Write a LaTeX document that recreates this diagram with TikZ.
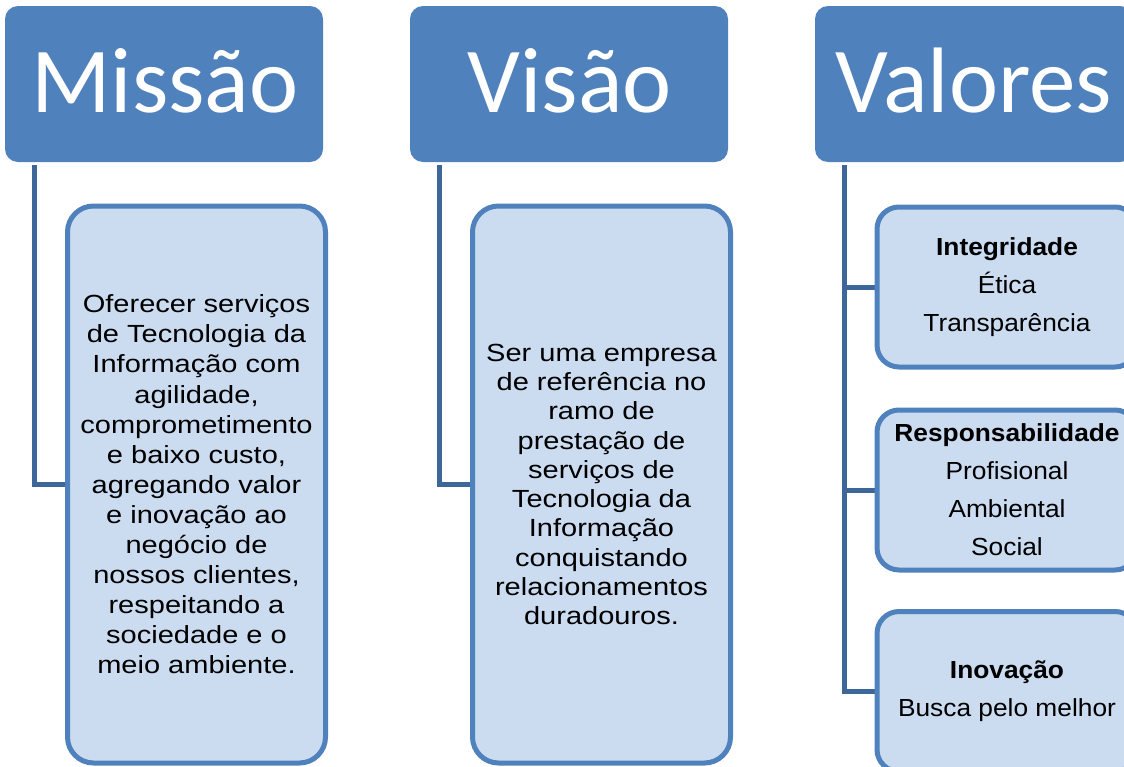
\documentclass[tikz,border=0pt]{standalone}
\usepackage{fontspec}
\setmainfont{Liberation Sans}
\newfontfamily\hdrfont{Carlito}
\newfontfamily\bodyA[FakeStretch=1.17]{Liberation Sans}
\newfontfamily\bodyB[FakeStretch=1.065]{Liberation Sans}
\definecolor{hdrblue}{HTML}{4F81BD}
\definecolor{edgeblue}{HTML}{4F81BD}
\definecolor{fillblue}{HTML}{CBDBF0}
\definecolor{connblue}{HTML}{3D6799}
\tikzset{
  header/.style={fill=hdrblue, rounded corners=13pt, minimum width=318pt, minimum height=156pt,
    inner sep=0pt},
  hdrtext/.style={anchor=base, inner sep=0pt, text=white, font={\hdrfont\fontsize{93}{93}\selectfont}},
  bigchild/.style={draw=edgeblue, line width=5pt, fill=fillblue, rounded corners=26pt,
    minimum width=258pt, minimum height=557pt, inner sep=0pt, align=center, text=black},
  valchild/.style={draw=edgeblue, line width=5pt, fill=fillblue, rounded corners=22pt,
    minimum width=260pt, minimum height=160pt, inner sep=0pt, align=center, text=black,
    font={\bodyB\fontsize{24.7}{38}\selectfont}},
  conn/.style={draw=connblue, line width=5pt}
}
\begin{document}
\begin{tikzpicture}[x=1pt,y=-1pt]
\useasboundingbox (0,0) rectangle (1124,766);
\clip (0,0) rectangle (1124,766);

% headers
\node[header] (h1) at (164,84) {};
\node[header] (h2) at (569,84) {};
\node[header] (h3) at (974,84) {};
\node[hdrtext] (t1) at (165,112) {Missão};
\node[hdrtext] (t2) at (570,112) {Visão};
\node[hdrtext] (t3) at (974,112) {Valores};

% connector start points
\coordinate (s1) at ([xshift=30pt,yshift=-3pt]h1.south west);
\coordinate (s2) at ([xshift=29.5pt,yshift=-3pt]h2.south west);
\coordinate (s3) at ([xshift=30pt,yshift=-3pt]h3.south west);

% connectors (drawn first, under boxes)
\draw[conn] (s1) |- (196.5,484.5);
\draw[conn] (s2) |- (601.5,484.5);
\draw[conn] (s3) |- (1007,287);
\draw[conn] (s3) |- (1007,490);
\draw[conn] (s3) |- (1007,691.5);

% child boxes
\node[bigchild, font={\bodyA\fontsize{24.8}{30.1}\selectfont}] (c1) at (196.5,484.5)
  {Oferecer serviços\\de Tecnologia da\\Informação com\\agilidade,\\comprometimento\\e baixo custo,\\agregando valor\\e inovação ao\\negócio de\\nossos clientes,\\respeitando a\\sociedade e o\\meio ambiente.};
\node[bigchild, font={\bodyA\fontsize{24.8}{29.3}\selectfont}] (c2) at (601.5,484.5)
  {Ser uma empresa\\de referência no\\ramo de\\prestação de\\serviços de\\Tecnologia da\\Informação\\conquistando\\relacionamentos\\duradouros.};
\node[valchild] (v1) at (1007,287) {\textbf{Integridade}\\Ética\\Transparência};
\node[valchild] (v2) at (1007,490) {\textbf{Responsabilidade}\\Profisional\\Ambiental\\Social};
\node[valchild] (v3) at (1007,691.5) {\textbf{Inovação}\\Busca pelo melhor};
\end{tikzpicture}
\end{document}
